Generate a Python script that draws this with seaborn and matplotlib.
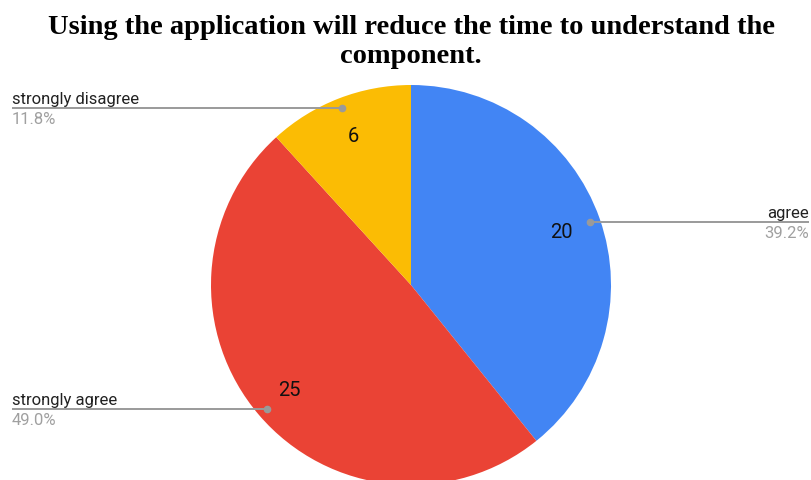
import numpy as np
import matplotlib
matplotlib.use("Agg")
import matplotlib.pyplot as plt
import seaborn as sns

# Survey responses
categories = ["agree", "strongly agree", "strongly disagree"]
counts = [20, 25, 6]
colors = ["#4285F4", "#EA4335", "#FBBC04"]

title = "Using the application will reduce the time to understand the\ncomponent."

sns.set_theme(style="white")
plt.rcParams["font.family"] = ["Roboto", "DejaVu Sans"]

W, H = 811, 481
fig = plt.figure(figsize=(W / 100, H / 100), dpi=100)
ax = fig.add_axes([0, 0, 1, 1])

cx, cy, R = 411, H - 286, 200
total = sum(counts)

wedges, texts, autotexts = ax.pie(
    counts,
    colors=colors,
    startangle=90,
    counterclock=False,
    center=(cx, cy),
    radius=R,
    autopct=lambda p: f"{round(p * total / 100):d}",
    pctdistance=0.8,
    textprops=dict(fontsize=14.5, color="#111111"),
    wedgeprops=dict(linewidth=0),
)

line_col = "#9a9a9a"
for w, name, c in zip(wedges, categories, counts):
    mid = np.deg2rad((w.theta1 + w.theta2) / 2)
    px = cx + 0.95 * R * np.cos(mid)
    py = cy + 0.95 * R * np.sin(mid)
    pct = f"{100 * c / total:.1f}%"
    if px > cx:
        x_end, ha = 809, "right"
    else:
        x_end, ha = 12, "left"
    ax.plot([px, x_end], [py, py], color=line_col, lw=1.4, solid_capstyle="butt", zorder=3)
    ax.plot([px], [py], "o", color=line_col, ms=4.5, zorder=4)
    ax.text(x_end, py + 2, name, ha=ha, va="bottom", fontsize=12, color="#222222")
    ax.text(x_end, py - 3, pct, ha=ha, va="top", fontsize=12, color="#a0a0a0")

ax.text(411, H - 42, title, ha="center", va="center", fontsize=20.5,
        fontweight="bold", family=["Liberation Serif", "DejaVu Serif"],
        color="black", linespacing=1.2)

ax.set_xlim(0, W)
ax.set_ylim(0, H)
ax.set_aspect("equal")
ax.axis("off")

fig.savefig("out.png", dpi=100, facecolor="white")
